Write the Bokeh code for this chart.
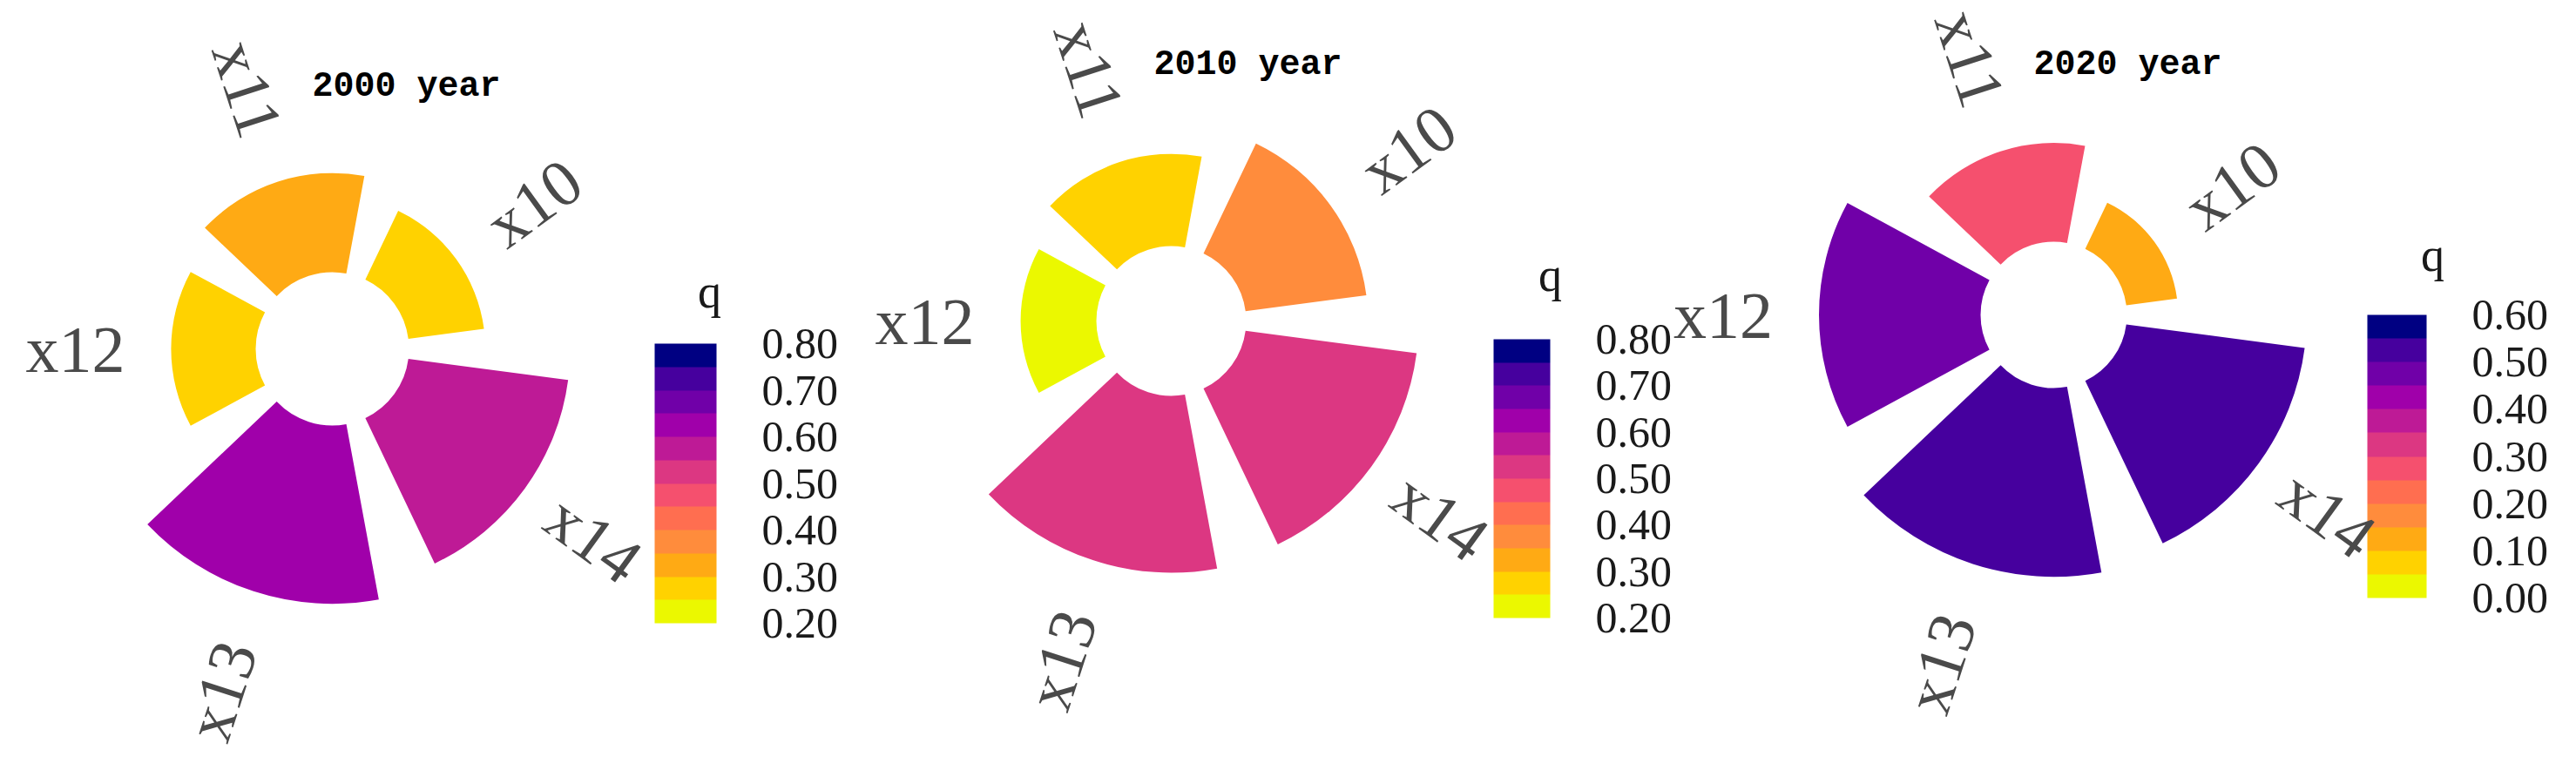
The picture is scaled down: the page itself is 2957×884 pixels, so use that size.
import numpy as np
from bokeh.plotting import figure
from bokeh.models import (ColumnDataSource, Range1d, ColorBar, LinearColorMapper,
                          FixedTicker, PrintfTickFormatter, Label)
from bokeh.layouts import row
from bokeh.transform import transform
from bokeh.core.properties import value
from bokeh.embed import file_html
from bokeh.resources import INLINE

# ---------------- data ----------------
categories = ["x10", "x11", "x12", "x13", "x14"]
q_2000 = [0.267, 0.347, 0.296, 0.624, 0.564]
q_2010 = [0.370, 0.280, 0.230, 0.537, 0.524]
q_2020 = [0.145, 0.280, 0.458, 0.535, 0.510]
titles = ["2000 year", "2010 year", "2020 year"]
cbar_low = [0.2, 0.2, 0.0]
cbar_high = [0.8, 0.8, 0.6]
ticks_2000 = [0.2, 0.3, 0.4, 0.5, 0.6, 0.7, 0.8]
ticks_2010 = [0.2, 0.3, 0.4, 0.5, 0.6, 0.7, 0.8]
ticks_2020 = [0.0, 0.1, 0.2, 0.3, 0.4, 0.5, 0.6]
palette = ["#EBF800", "#FFD200", "#FFAA14", "#FF8C3C", "#FF6E50", "#F5506E",
           "#DC3782", "#BE1A96", "#A000AA", "#7000A8", "#46009E", "#000082"]

series = [q_2000, q_2010, q_2020]
tick_sets = [ticks_2000, ticks_2010, ticks_2020]

# ---------------- layout (pixels) ----------------
H = 868
layouts = [
    dict(W=990, cx=381, cy=400, k=328, hole=88, cb=(751, 153, 71, 321), qpos=(814, 334), tpos=(466, 99)),
    dict(W=928, cx=354, cy=368, k=378, hole=86, cb=(724, 159, 65, 320), qpos=(789, 315), tpos=(442, 74)),
    dict(W=1023, cx=439, cy=361, k=405, hole=84, cb=(799, 182, 68, 325), qpos=(874, 292), tpos=(524, 74)),
]
# distance of each category label beyond the bar end (px)
LABEL_GAP_PX = np.array([110, 112, 110, 120, 98])
HALF_WIDTH_DEG = 28.5
STEP_DEG = 72.0
FIRST_DEG = 36.0

figs = []
for qs, ticks, title, lo, hi, L in zip(series, tick_sets, titles, cbar_low, cbar_high, layouts):
    k = L["k"]
    W = L["W"]
    p = figure(width=W, height=H, output_backend="svg", toolbar_location=None,
               x_range=Range1d(-L["cx"] / k, (W - L["cx"]) / k),
               y_range=Range1d(-(H - L["cy"]) / k, L["cy"] / k),
               x_axis_type=None, y_axis_type=None, min_border=0)
    p.grid.visible = False
    p.outline_line_color = None
    p.background_fill_color = "white"
    p.border_fill_color = "white"

    mapper = LinearColorMapper(palette=palette, low=lo, high=hi)

    q = np.array(qs, dtype=float)
    idx = np.arange(len(categories))
    theta_deg = FIRST_DEG + STEP_DEG * idx
    hole = L["hole"] / k
    outer = hole + q
    lr = outer + LABEL_GAP_PX / k
    tc = np.deg2rad(theta_deg)
    rot = np.where(np.cos(tc) >= -1e-9, tc, tc - np.pi)

    src = ColumnDataSource(dict(
        cat=categories, q=q, outer=outer,
        start=np.deg2rad(theta_deg - HALF_WIDTH_DEG),
        end=np.deg2rad(theta_deg + HALF_WIDTH_DEG),
        lx=lr * np.cos(tc), ly=lr * np.sin(tc), rot=rot,
        x0=np.zeros(len(q)), y0=np.zeros(len(q)),
    ))

    p.annular_wedge(x="x0", y="y0", inner_radius=hole, outer_radius="outer",
                    start_angle="start", end_angle="end", source=src,
                    fill_color=transform("q", mapper), line_color=None)

    p.text(x="lx", y="ly", text="cat", angle="rot", source=src,
           text_align="center", text_baseline="middle",
           text_font=value("Liberation Serif"), text_font_size="76px",
           text_color="#4a4a4a", level="overlay")

    cbx, cby, cbw, cbh = L["cb"]
    cb = ColorBar(color_mapper=mapper, ticker=FixedTicker(ticks=ticks),
                  formatter=PrintfTickFormatter(format="%.2f"),
                  location=(cbx, cby), width=cbw, height=cbh, padding=0,
                  orientation="vertical", label_standoff=52,
                  major_label_text_font="Liberation Serif",
                  major_label_text_font_size="50px",
                  major_label_text_color="#1a1a1a",
                  major_tick_line_color=None, minor_tick_line_color=None,
                  bar_line_color=None, border_line_color=None,
                  background_fill_color=None)
    p.add_layout(cb)

    p.add_layout(Label(x=L["qpos"][0], y=H - L["qpos"][1], x_units="screen", y_units="screen",
                       text="q", text_align="center", text_baseline="middle",
                       text_font="Liberation Serif", text_font_size="54px",
                       text_color="#1a1a1a"))
    p.add_layout(Label(x=L["tpos"][0], y=H - L["tpos"][1], x_units="screen", y_units="screen",
                       text=title, text_align="center", text_baseline="middle",
                       text_font="Liberation Mono", text_font_style="bold",
                       text_font_size="40px", text_color="black"))
    figs.append(p)

layout = row(*figs, spacing=0)
open("out.html", "w").write(file_html(layout, INLINE))
